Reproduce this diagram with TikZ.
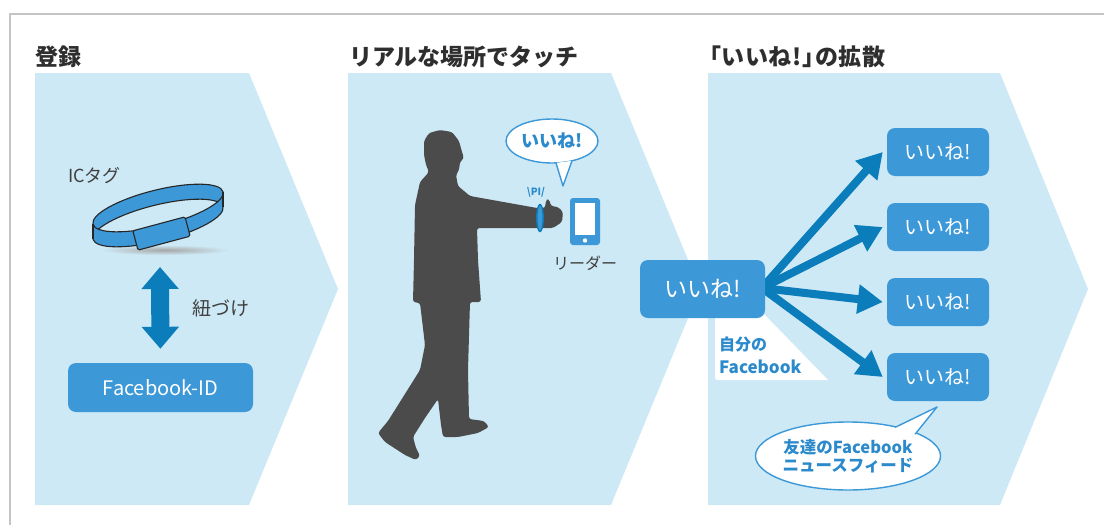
\documentclass[tikz,border=0pt]{standalone}
\usepackage{fontspec}
\setmainfont{Noto Sans CJK JP}
\usetikzlibrary{arrows.meta,shapes.geometric}

\definecolor{panelblue}{HTML}{CDE9F5}
\definecolor{boxblue}{HTML}{3D98D8}
\definecolor{arrowblue}{HTML}{0A7DBA}
\definecolor{titleink}{HTML}{2E2E2E}
\definecolor{labelink}{HTML}{404040}
\definecolor{figgray}{HTML}{4B4B4B}
\definecolor{framegray}{HTML}{C4C4C4}
\definecolor{textblue}{HTML}{2B8ACB}

\newcommand\fsz[1]{\fontsize{#1}{#1}\selectfont}

\begin{document}
\begin{tikzpicture}[x=1pt,y=-1pt,
  panel/.style={fill=panelblue},
  heading/.style={anchor=west,inner sep=0,text=titleink,font=\fsz{23}\bfseries},
  caption/.style={inner sep=0,text=labelink},
  likebox/.style={fill=boxblue,rounded corners=8pt,text=white,inner sep=0,
    minimum width=102pt,minimum height=48pt,font=\fsz{20}},
  bubble/.style={ellipse,draw=boxblue,line width=1.4pt,fill=white,inner sep=0},
  bubbletail/.style={draw=boxblue,line width=1.4pt,fill=white,line join=round},
  fanarrow/.style={arrowblue,line width=8pt,-{Triangle[length=25pt,width=28pt]}},
  linkarrow/.style={arrowblue,line width=18pt,
    {Triangle[length=22pt,width=36pt]}-{Triangle[length=22pt,width=36pt]}},
  bandline/.style={black!85,line width=1.1pt},
]
\useasboundingbox (0,0) rectangle (1104,525);
\fill[white] (0,0) rectangle (1104,525);
\draw[framegray,line width=2pt] (9.5,525) -- (9.5,13.5) -- (1104,13.5);

% three chevron panels
\fill[panel] (35,73) -- (249,73) -- (338,289) -- (249,505) -- (35,505) -- cycle;
\fill[panel] (348,73) -- (611,73) -- (700,289) -- (611,505) -- (348,505) -- cycle;
\fill[panel] (708,73) -- (1000,73) -- (1088,289) -- (1000,505) -- (708,505) -- cycle;

% headings
\node[heading] (h1) at (35,57) {登録};
\node[heading] (h2) at (349,57) {リアルな場所でタッチ};
\node[heading] (h3) at (709,57) {\addfontfeatures{RawFeature=+palt,LetterSpace=4}「いいね!」の拡散};

% ---- step 1: IC tag bracelet linked to the Facebook ID
\node[caption,anchor=west,font=\fsz{18}] (iclabel) at (68,176) {ICタグ};
\shade[inner color=gray!70,outer color=panelblue] (165,250) ellipse (64 and 5);
\foreach \k in {0,1,...,15}
  \fill[boxblue,shift={(158,208+\k)},rotate=14] (0,0) ellipse (67 and 18);
\begin{scope}
  \clip[shift={(158,208)},rotate=14] (0,0) ellipse (67 and 18);
  \fill[panelblue,shift={(158,223)},rotate=14] (0,0) ellipse (67 and 18);
  \draw[bandline,shift={(158,223)},rotate=14] (0,0) ellipse (67 and 18);
\end{scope}
\draw[bandline,shift={(158,208)},rotate=14] (0,0) ellipse (67 and 18);
\draw[bandline,shift={(158,223)},rotate=14] (67,0) arc[start angle=0,end angle=180,x radius=67,y radius=18];
\draw[bandline] (223,191.8) -- (223,206.8);
\draw[bandline] (93,224.2) -- (93,239.2);
\node[draw=black!85,line width=1.1pt,fill=boxblue,rounded corners=1.5pt,inner sep=0,
  minimum width=54pt,minimum height=20pt,rotate=15] (ictag) at (161.5,233.5) {};

\node[fill=boxblue,rounded corners=8pt,text=white,inner sep=0,minimum width=185pt,
  minimum height=49pt,font=\fsz{20}] (fbid) at (160.5,387.5) {Facebook-ID};
\coordinate (tagbase) at (160,267);
\draw[linkarrow,shorten >=14pt] (tagbase) -- (fbid.north);
\node[caption,anchor=west,font=\fsz{19}] (linklabel) at (192,308) {紐づけ};

% ---- step 2: walking figure touching the reader
\fill[figgray,rounded corners=2.5pt]
  (440,130) -- (452,132) -- (459,141) -- (462,152) -- (464,158) -- (460,162)
  -- (459,170) -- (456,175) -- (458,186) -- (470,196) -- (537,208) -- (545,208)
  -- (546,200) -- (549,199) -- (551,206) -- (558,207) -- (563,212) -- (562,222)
  -- (553,228) -- (537,228) -- (477,228) -- (478,260) -- (481,302) -- (470,302)
  -- (468,370) -- (469,419) -- (484,421) -- (489,427) -- (478,433) -- (458,437)
  -- (443,437) -- (441,425) -- (438,399) -- (425,418) -- (413,437) -- (416,448)
  -- (420,456) -- (416,460) -- (405,455) -- (385,442) -- (378,433) -- (388,421)
  -- (420,370) -- (425,345) -- (420,303) -- (413,302) -- (414,260) -- (415,205)
  -- (420,182) -- (429,172) -- (426,165) -- (424,155) -- (424,141) -- (429,133)
  -- cycle;
\draw[arrowblue,fill=boxblue,line width=1.4pt] (540,218) ellipse (3.2 and 13.5);
\node[text=textblue,inner sep=0,font=\fsz{10}\bfseries] (beep) at (536,192) {\textbackslash PI/};

\node[fill=boxblue,rounded corners=3pt,inner sep=0,minimum width=30pt,minimum height=47pt] (reader) at (585,221.5) {};
\fill[white] (575,203) rectangle (595,235);
\fill[white] (585,240.5) circle (2.2);
\node[caption,font=\fsz{16}] (readerlabel) at (585,263) {リーダー};

\node[bubble,minimum width=92pt,minimum height=44pt,text=textblue,font=\fsz{18}\bfseries] (say) at (552,141) {いいね!};
\path[bubbletail] (556,162.9) -- (563,186) -- (572,160.8);

% ---- step 3: the like spreads to friends' feeds
\fill[white] (762,312) -- (715,312) -- (715,374) .. controls (715,380) .. (721,380) -- (828,380) -- cycle;
\node[anchor=west,inner sep=0,text=textblue,font=\fsz{16}\bfseries] (own1) at (719,344) {自分の};
\node[anchor=west,inner sep=0,text=textblue,font=\fsz{17}\bfseries] (own2) at (719,367) {Facebook};

\node[likebox] (f1) at (938,152) {いいね!};
\node[likebox] (f2) at (938,227) {いいね!};
\node[likebox] (f3) at (938,302) {いいね!};
\node[likebox] (f4) at (938,377) {いいね!};

\coordinate (hub) at (762,288);
\foreach \t in {f1,f2,f3,f4}
  \draw[fanarrow] (hub) -- ([xshift=-4pt]\t.west);

\node[likebox,minimum width=125pt,minimum height=58pt,font=\fsz{23}] (mine) at (702.5,289) {いいね!};

\node[bubble,minimum width=174pt,minimum height=68pt,text=textblue,align=center,
  font=\fsz{16.5}\bfseries] (feed) at (848,456) {友達のFacebook\\[1pt]ニュースフィード};
\path[bubbletail] (895,427.4) -- (937,407) -- (915,434.3);

\end{tikzpicture}
\end{document}
